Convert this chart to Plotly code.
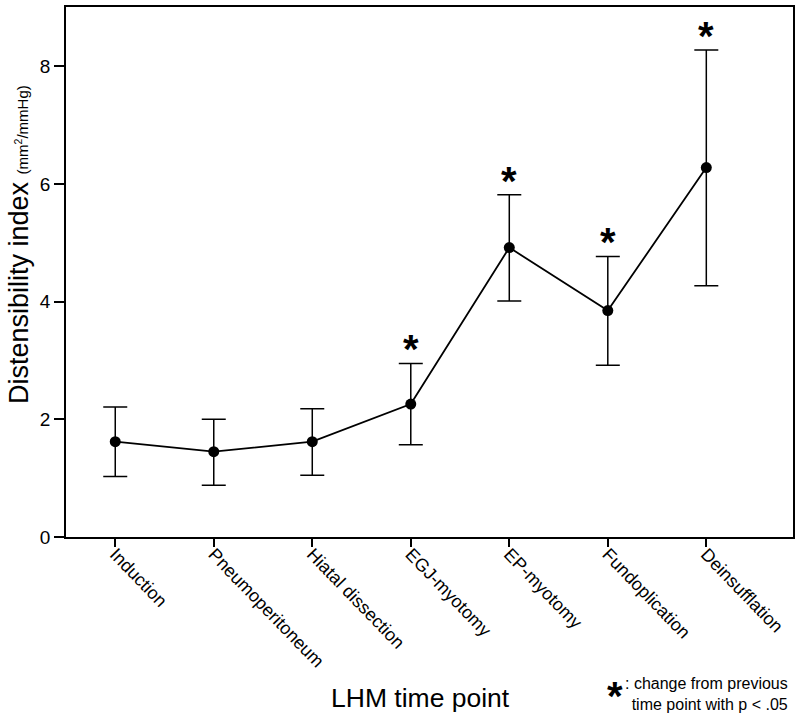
import plotly.graph_objects as go

categories = ["Induction", "Pneumoperitoneum", "Hiatal dissection", "EGJ-myotomy",
              "EP-myotomy", "Fundoplication", "Deinsufflation"]
means = [1.62, 1.45, 1.62, 2.26, 4.92, 3.85, 6.28]
upper = [2.21, 2.00, 2.18, 2.95, 5.82, 4.77, 8.28]
lower = [1.03, 0.88, 1.05, 1.57, 4.01, 2.92, 4.27]
significant = [False, False, False, True, True, True, True]

err_plus = [u - m for u, m in zip(upper, means)]
err_minus = [m - l for m, l in zip(means, lower)]
xidx = list(range(len(categories)))

FONT = "Arial, Liberation Sans, Helvetica, sans-serif"

fig = go.Figure()
fig.add_trace(go.Scatter(
    x=xidx, y=means, mode="lines+markers",
    line=dict(color="black", width=1.8),
    marker=dict(color="black", size=11),
    error_y=dict(type="data", symmetric=False, array=err_plus, arrayminus=err_minus,
                 color="black", thickness=1.5, width=12),
    showlegend=False,
))

for i, (u, s) in enumerate(zip(upper, significant)):
    if s:
        fig.add_annotation(x=i, y=u, text="<b>*</b>", showarrow=False, yanchor="bottom",
                           yshift=-10, font=dict(family=FONT, size=40, color="black"))

# axis titles
fig.add_annotation(xref="paper", yref="paper", x=0.487, y=-0.304, text="LHM time point",
                   showarrow=False, xanchor="center", yanchor="middle",
                   font=dict(family=FONT, size=26.5, color="black"))
fig.add_annotation(xref="paper", yref="paper", x=-0.0646, y=0.551, textangle=-90,
                   text="Distensibility index <span style='font-size:15px'>(mm<sup>2</sup>/mmHg)</span>",
                   showarrow=False, xanchor="center", yanchor="middle",
                   font=dict(family=FONT, size=27, color="black"))

# significance note
fig.add_annotation(xref="paper", yref="paper", x=0.741, y=-0.30, text="<b>*</b>",
                   showarrow=False, xanchor="left", yanchor="middle",
                   font=dict(family=FONT, size=40, color="black"))
fig.add_annotation(xref="paper", yref="paper", x=0.996, y=-0.296,
                   text=": change from previous<br>time point with p < .05",
                   showarrow=False, xanchor="right", yanchor="middle", align="right",
                   font=dict(family=FONT, size=16, color="black"))

fig.update_layout(
    width=800, height=721,
    margin=dict(l=66, r=7, t=7, b=184, autoexpand=False),
    plot_bgcolor="white", paper_bgcolor="white",
    font=dict(family=FONT, color="black"),
    xaxis=dict(
        range=[-0.5, 6.88], tickmode="array", tickvals=xidx, ticktext=categories,
        tickangle=46, ticks="outside", ticklen=8, tickwidth=1.5, tickcolor="black",
        showline=True, linecolor="black", linewidth=1.5, mirror=True,
        showgrid=False, zeroline=False, automargin=False, ticklabeloverflow="allow",
        ticklabelstandoff=-10,
        tickfont=dict(family=FONT, size=18, color="black"),
    ),
    yaxis=dict(
        range=[0, 9.01], tickvals=[0, 2, 4, 6, 8], ticks="outside", ticklen=10,
        tickwidth=1.5, tickcolor="black",
        showline=True, linecolor="black", linewidth=1.5, mirror=True,
        showgrid=False, zeroline=False, automargin=False,
        tickfont=dict(family=FONT, size=19, color="black"),
    ),
)

fig.write_html("out.html", config={"displayModeBar": False},
               post_script="document.body.style.margin='0';")
